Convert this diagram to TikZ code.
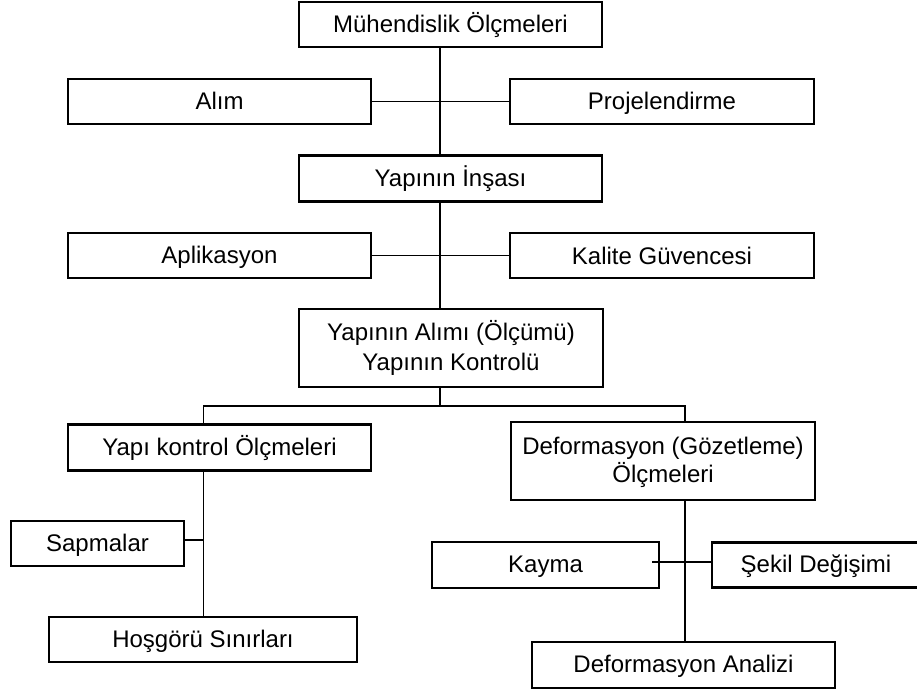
\documentclass[tikz,border=0pt]{standalone}
\usepackage{fontspec}
\setmainfont{Liberation Sans}
\newcommand\mystrut{\vrule width 0pt height 20.5pt depth 3.5pt\relax}
\begin{document}
\begin{tikzpicture}[x=1pt,y=-1pt,
  box/.style={draw=black,line width=2.2pt,fill=white,inner sep=0pt,align=center,
    font=\fontsize{24}{29}\selectfont},
  conn/.style={draw=black,line width=1.8pt}]
\clip (0,0) rectangle (917,695);
\fill[white] (0,0) rectangle (917,695);
\coordinate (spine) at (440,0);
\coordinate (lsp) at (203.5,0);
\coordinate (rsp) at (685,0);
\coordinate (hbar) at (0,406);
\coordinate (sbar) at (0,540);
\coordinate (kbar) at (0,562);
\coordinate (kend) at (652,562);
% nodes
\node[box,minimum width=303,minimum height=45] (b1) at (450.5,24.5) {\mystrut Mühendislik Ölçmeleri};
\node[box,minimum width=303,minimum height=45] (b2) at (219.5,101.5) {\mystrut Alım};
\node[box,minimum width=304,minimum height=45] (b3) at (662,101.5) {\mystrut Projelendirme};
\node[box,minimum width=303,minimum height=46] (b4) at (450.5,178.5) {\mystrut Yapının İnşası};
\node[box,minimum width=303,minimum height=45] (b5) at (219.5,255.5) {\mystrut Aplikasyon};
\node[box,minimum width=304,minimum height=45] (b6) at (662,255.5) {\mystrut Kalite Güvencesi};
\node[box,minimum width=304,minimum height=78,font=\fontsize{24}{30}\selectfont] (b7) at (451,348) {\mystrut Yapının Alımı (Ölçümü)\\\mystrut Yapının Kontrolü};
\node[box,minimum width=303,minimum height=46] (b8) at (219.5,447.5) {\mystrut Yapı kontrol Ölçmeleri};
\node[box,minimum width=304,minimum height=78,font=\fontsize{24}{28}\selectfont] (b9) at (663,461) {\mystrut Deformasyon (Gözetleme)\\\mystrut Ölçmeleri};
\node[box,minimum width=173,minimum height=45] (b10) at (97.5,543.5) {\mystrut Sapmalar};
\node[box,minimum width=308,minimum height=45] (b11) at (203,639.5) {\mystrut Hoşgörü Sınırları};
\node[box,minimum width=227,minimum height=46] (b12) at (545.5,565) {\mystrut Kayma};
\node[box,minimum width=208,minimum height=45] (b13) at (816,565) {\mystrut Şekil Değişimi};
\node[box,minimum width=303,minimum height=46] (b14) at (683.5,665) {\mystrut Deformasyon Analizi};
% connectors
\draw[conn] (spine |- b1.south) -- (spine |- b4.north);
\draw[conn] (spine |- b4.south) -- (spine |- b7.north);
\draw[conn] (b2.east) -- (b3.west);
\draw[conn] (b5.east) -- (b6.west);
\draw[conn] (spine |- b7.south) -- (spine |- hbar);
\draw[conn] (lsp |- b8.north) -- (lsp |- hbar) -- (rsp |- hbar) -- (rsp |- b9.north);
\draw[conn] (lsp |- b8.south) -- (lsp |- b11.north);
\draw[conn] (b10.east |- sbar) -- (lsp |- sbar);
\draw[conn] (rsp |- b9.south) -- (rsp |- b14.north);
\draw[conn] (kend) -- (b13.west |- kbar);
\end{tikzpicture}
\end{document}
